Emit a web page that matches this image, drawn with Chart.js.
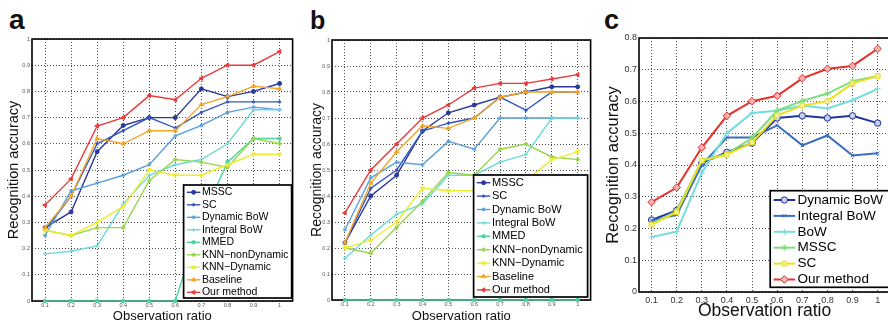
<!DOCTYPE html>
<html>
<head>
<meta charset="utf-8">
<script src="https://cdn.jsdelivr.net/npm/chart.js@4.4.1/dist/chart.umd.min.js"></script>
<style>
  body { margin: 0; width: 888px; height: 323px; overflow: hidden; background: #fff; position: relative; }
  canvas { position: absolute; top: 0; }
  .tag { position: absolute; font-family: "Liberation Sans", Arial, sans-serif; font-weight: bold; color: #111; line-height: 1; }
</style>
</head>
<body>
<div class="tag" style="left:9px; top:6px; font-size:28px">a</div>
<div class="tag" style="left:310px; top:8px; font-size:25px">b</div>
<div class="tag" style="left:604px; top:7px; font-size:27px">c</div>
<canvas id="chartA" width="296" height="330" style="left:0px"></canvas>
<canvas id="chartB" width="298" height="330" style="left:296px"></canvas>
<canvas id="chartC" width="300" height="330" style="left:595px"></canvas>
<script>
// data
const ratios = [0.1, 0.2, 0.3, 0.4, 0.5, 0.6, 0.7, 0.8, 0.9, 1]
const xTicks = [0.1, 0.2, 0.3, 0.4, 0.5, 0.6, 0.7, 0.8, 0.9, 1]
const xTickLabels = ['0.1', '0.2', '0.3', '0.4', '0.5', '0.6', '0.7', '0.8', '0.9', '1']
const yTicksAB = [0, 0.1, 0.2, 0.3, 0.4, 0.5, 0.6, 0.7, 0.8, 0.9, 1]
const yTickLabelsAB = ['0', '0.1', '0.2', '0.3', '0.4', '0.5', '0.6', '0.7', '0.8', '0.9', '1']
const yTicksC = [0, 0.1, 0.2, 0.3, 0.4, 0.5, 0.6, 0.7, 0.8]
const yTickLabelsC = ['0', '0.1', '0.2', '0.3', '0.4', '0.5', '0.6', '0.7', '0.8']

const namesAB = ['MSSC', 'SC', 'Dynamic BoW', 'Integral BoW', 'MMED', 'KNN−nonDynamic', 'KNN−Dynamic', 'Baseline', 'Our method']
const namesC = ['Dynamic BoW', 'Integral BoW', 'BoW', 'MSSC', 'SC', 'Our method']

// panel a
const aMSSC = [0.28, 0.34, 0.57, 0.67, 0.70, 0.70, 0.81, 0.78, 0.80, 0.83]
const aSC = [0.27, 0.40, 0.60, 0.65, 0.70, 0.66, 0.72, 0.76, 0.76, 0.76]
const aDynBoW = [0.25, 0.42, 0.45, 0.48, 0.52, 0.63, 0.67, 0.72, 0.74, 0.73]
const aIntBoW = [0.18, 0.19, 0.21, 0.37, 0.48, 0.52, 0.54, 0.60, 0.73, 0.73]
const aMMED = [0, 0, 0, 0, 0, 0, 0.31, 0.53, 0.62, 0.62]
const aKnnNon = [0.27, 0.25, 0.28, 0.28, 0.46, 0.54, 0.53, 0.51, 0.62, 0.60]
const aKnnDyn = [0.27, 0.25, 0.30, 0.36, 0.50, 0.48, 0.48, 0.52, 0.56, 0.56]
const aBaseline = [0.28, 0.40, 0.62, 0.60, 0.65, 0.65, 0.75, 0.78, 0.82, 0.81]
const aOurs = [0.366, 0.466, 0.668, 0.70, 0.784, 0.768, 0.85, 0.90, 0.90, 0.952]

// panel b
const bMSSC = [0.22, 0.40, 0.48, 0.65, 0.72, 0.75, 0.78, 0.80, 0.82, 0.82]
const bSC = [0.22, 0.43, 0.50, 0.65, 0.68, 0.70, 0.78, 0.73, 0.80, 0.80]
const bDynBoW = [0.27, 0.47, 0.53, 0.52, 0.61, 0.58, 0.70, 0.70, 0.70, 0.70]
const bIntBoW = [0.16, 0.25, 0.33, 0.37, 0.48, 0.48, 0.53, 0.56, 0.70, 0.70]
const bMMED = [0, 0, 0, 0, 0, 0, 0, 0, 0, 0]
const bKnnNon = [0.20, 0.18, 0.28, 0.38, 0.49, 0.48, 0.58, 0.60, 0.55, 0.54]
const bKnnDyn = [0.20, 0.23, 0.30, 0.43, 0.42, 0.42, 0.42, 0.46, 0.54, 0.57]
const bBaseline = [0.22, 0.45, 0.57, 0.67, 0.66, 0.70, 0.78, 0.80, 0.80, 0.80]
const bOurs = [0.335, 0.50, 0.60, 0.70, 0.75, 0.815, 0.833, 0.833, 0.85, 0.867]

// panel c
const cDynBoW = [0.227, 0.257, 0.406, 0.44, 0.469, 0.548, 0.555, 0.548, 0.555, 0.532]
const cIntBoW = [0.225, 0.243, 0.40, 0.487, 0.487, 0.525, 0.462, 0.493, 0.43, 0.437]
const cBoW = [0.173, 0.19, 0.376, 0.50, 0.564, 0.571, 0.587, 0.578, 0.604, 0.64]
const cMSSC = [0.215, 0.255, 0.415, 0.435, 0.485, 0.571, 0.602, 0.625, 0.664, 0.68]
const cSC = [0.212, 0.251, 0.414, 0.432, 0.471, 0.556, 0.587, 0.601, 0.657, 0.68]
const cOurs = [0.283, 0.329, 0.455, 0.555, 0.601, 0.618, 0.673, 0.703, 0.712, 0.766]

// line styles
const stylesAB = [
  { color: '#2b3a9a', marker: 'circle', size: 2 },
  { color: '#3556c2', marker: 'circle', size: 1.2 },
  { color: '#5a9fdb', marker: 'star', size: 2 },
  { color: '#6cdada', marker: 'cross', size: 2 },
  { color: '#4fd19a', marker: 'rect', size: 2 },
  { color: '#98d64c', marker: 'rectRot', size: 2 },
  { color: '#eded2e', marker: 'triangle', rot: 180, size: 2.4 },
  { color: '#f5a524', marker: 'triangle', size: 2.4 },
  { color: '#ea3a3a', marker: 'triangle', rot: -90, size: 2.4 }
]
const stylesC = [
  { color: '#1f3399', fill: '#c8cfee', marker: 'circle', size: 3.2 },
  { color: '#3a6cc4', marker: 'crossRot', size: 2.5 },
  { color: '#74dcdc', marker: 'cross', size: 3 },
  { color: '#7fdc7f', marker: 'star', size: 3 },
  { color: '#ece020', fill: '#f6f09a', marker: 'rect', size: 3.3 },
  { color: '#e6302c', fill: '#f7b0ae', marker: 'rectRot', size: 3.8 }
]

Chart.defaults.font.family = '"Liberation Sans", Arial, Helvetica, sans-serif'

const makeSet = (label, values, style, width, order) => ({
  label,
  data: values.map((v, i) => ({ x: ratios[i], y: v })),
  borderColor: style.color,
  backgroundColor: style.fill || style.color,
  pointStyle: style.marker,
  pointRotation: style.rot || 0,
  pointRadius: style.size,
  pointHoverRadius: style.size,
  pointBorderWidth: 1,
  borderWidth: width,
  order,
  clip: 6
})

// axes box behind the lines, legend box on top
const boxLegend = {
  id: 'boxLegend',
  beforeDatasetsDraw: (chart) => {
    const { ctx, chartArea } = chart
    ctx.save()
    ctx.strokeStyle = '#000'
    ctx.lineWidth = 1.6
    ctx.strokeRect(chartArea.left, chartArea.top, chartArea.right - chartArea.left, chartArea.bottom - chartArea.top)
    ctx.restore()
  },
  afterDatasetsDraw: (chart, args, opts) => {
    const { ctx, chartArea } = chart
    const x0 = chartArea.right - opts.x
    const y0 = chartArea.bottom - opts.y
    ctx.save()
    ctx.fillStyle = '#fff'
    ctx.fillRect(x0, y0, opts.w, opts.h)
    ctx.strokeStyle = '#000'
    ctx.lineWidth = 1.7
    ctx.strokeRect(x0, y0, opts.w, opts.h)
    chart.data.datasets.forEach((ds, i) => {
      const y = y0 + opts.first + i * opts.gap
      ctx.strokeStyle = ds.borderColor
      ctx.lineWidth = ds.borderWidth
      ctx.beginPath()
      ctx.moveTo(x0 + opts.lineStart, y)
      ctx.lineTo(x0 + opts.lineStart + opts.lineLen, y)
      ctx.stroke()
      ctx.fillStyle = ds.backgroundColor
      ctx.lineWidth = 1
      Chart.helpers.drawPoint(ctx, { pointStyle: ds.pointStyle, rotation: ds.pointRotation, radius: ds.pointRadius, borderWidth: 1 },
        x0 + opts.lineStart + opts.lineLen / 2, y)
      ctx.fillStyle = '#000'
      ctx.font = opts.font + 'px "Liberation Sans", Arial, sans-serif'
      ctx.textBaseline = 'middle'
      ctx.textAlign = 'left'
      ctx.fillText(ds.label, x0 + opts.textX, y)
    })
    ctx.restore()
  }
}

const makeScales = (cfg) => ({
  x: {
    type: 'linear', min: 0.05, max: 1.05,
    afterBuildTicks: (s) => { s.ticks = xTicks.map(v => ({ value: v })) },
    afterFit: (s) => { s.height = cfg.xHeight },
    ticks: { callback: (v, i) => xTickLabels[i], font: { size: cfg.tick }, color: cfg.tickColor, padding: cfg.xPad, maxRotation: 0, autoSkip: false },
    grid: { color: '#222', lineWidth: 0.8, drawTicks: false },
    border: { display: false, dash: [1, 2] },
    title: { display: true, text: 'Observation ratio', color: '#111', font: { size: cfg.xTitle }, padding: { top: 0, bottom: cfg.xTitlePad } }
  },
  y: {
    type: 'linear', min: 0, max: cfg.yMax,
    afterBuildTicks: (s) => { s.ticks = cfg.yTicks.map(v => ({ value: v })) },
    afterFit: (s) => { s.width = cfg.yWidth },
    ticks: { callback: (v, i) => cfg.yLabels[i], font: { size: cfg.tick }, color: cfg.tickColor, padding: 2, autoSkip: false },
    grid: { color: '#222', lineWidth: 0.8, drawTicks: false },
    border: { display: false, dash: [1, 2] },
    title: { display: true, text: 'Recognition accuracy', color: '#111', font: { size: cfg.yTitle }, padding: { top: cfg.yTitlePad, bottom: 0 } }
  }
})

const makeChart = (id, sets, scaleCfg, padding, legendCfg) => new Chart(document.getElementById(id), {
  type: 'line',
  data: { datasets: sets },
  plugins: [boxLegend],
  options: {
    responsive: false,
    animation: false,
    devicePixelRatio: 1,
    layout: { padding },
    scales: makeScales(scaleCfg),
    plugins: {
      legend: { display: false },
      tooltip: { enabled: false },
      boxLegend: legendCfg
    }
  }
})

const seriesA = [aMSSC, aSC, aDynBoW, aIntBoW, aMMED, aKnnNon, aKnnDyn, aBaseline, aOurs]
const seriesB = [bMSSC, bSC, bDynBoW, bIntBoW, bMMED, bKnnNon, bKnnDyn, bBaseline, bOurs]
const seriesC = [cDynBoW, cIntBoW, cBoW, cMSSC, cSC, cOurs]

const setsA = seriesA.map((vals, i) => makeSet(namesAB[i], vals, stylesAB[i], 1.4, seriesA.length - i))
const setsB = seriesB.map((vals, i) => makeSet(namesAB[i], vals, stylesAB[i], 1.4, seriesB.length - i))
const setsC = seriesC.map((vals, i) => makeSet(namesC[i], vals, stylesC[i], 2, seriesC.length - i))

makeChart('chartA', setsA,
  { yMax: 1, yTicks: yTicksAB, yLabels: yTickLabelsAB, tick: 5.5, tickColor: '#555', xPad: 1.5, xHeight: 29, yWidth: 32, xTitle: 13, xTitlePad: 6.2, yTitle: 14.5, yTitlePad: 5.3 },
  { top: 39, right: 2, left: 0, bottom: 0 },
  { x: 109, y: 116, w: 108, h: 113, first: 7.3, gap: 12.5, lineStart: 3.3, lineLen: 13.4, textX: 18.3, font: 10.5 })

makeChart('chartB', setsB,
  { yMax: 1, yTicks: yTicksAB, yLabels: yTickLabelsAB, tick: 5.5, tickColor: '#555', xPad: 1.5, xHeight: 30, yWidth: 36, xTitle: 13, xTitlePad: 6.2, yTitle: 14, yTitlePad: 12.6 },
  { top: 40, right: 2, left: 0, bottom: 0 },
  { x: 117, y: 125, w: 114, h: 122, first: 7.7, gap: 13.4, lineStart: 3.3, lineLen: 13.4, textX: 18.3, font: 11 })

makeChart('chartC', setsC,
  { yMax: 0.8, yTicks: yTicksC, yLabels: yTickLabelsC, tick: 9, tickColor: '#333', xPad: 3, xHeight: 38, yWidth: 44, xTitle: 17.5, xTitlePad: 8.3, yTitle: 16.5, yTitlePad: 8.1 },
  { top: 38, right: 2, left: 0, bottom: 0 },
  { x: 120, y: 101.3, w: 125, h: 96.6, first: 9.3, gap: 15.9, lineStart: 3.4, lineLen: 21.6, textX: 27.4, font: 13.5 })
</script>
</body>
</html>
